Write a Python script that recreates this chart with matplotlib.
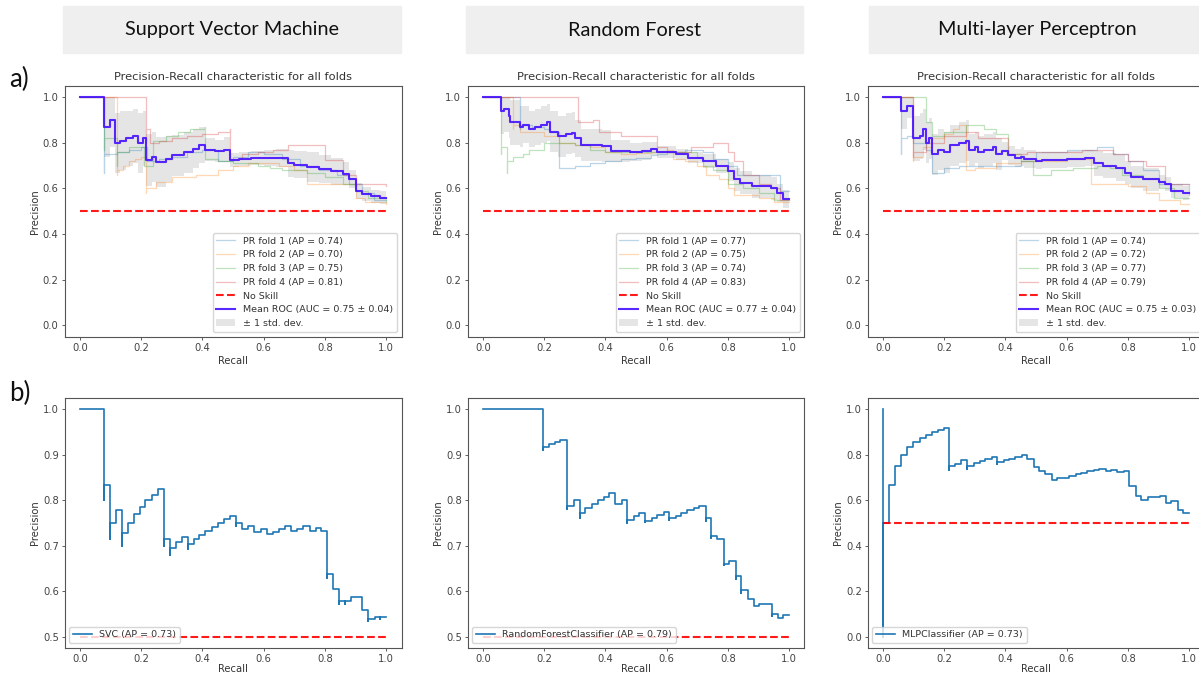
import numpy as np
import matplotlib.pyplot as plt
from matplotlib.patches import Rectangle

# ---------------- data ----------------
models = ["Support Vector Machine", "Random Forest", "Multi-layer Perceptron"]
fold_ap = [[0.74, 0.70, 0.75, 0.81], [0.77, 0.75, 0.74, 0.83], [0.74, 0.72, 0.77, 0.79]]
mean_auc = [0.75, 0.77, 0.75]
std_auc = [0.04, 0.04, 0.03]
clf_names = ["SVC", "RandomForestClassifier", "MLPClassifier"]
clf_ap = [0.73, 0.79, 0.73]
no_skill = 0.5

# top row: per-fold PR curves (recall, precision), step starts
svm_fold_r = [
    [0, .08, .08, .12, .16, .20, .22, .26, .30, .35, .40, .45, .50, .55, .60, .66, .72, .78, .84, .88, .92, .96, 1.0],
    [0, .12, .12, .14, .16, .18, .20, .215, .215, .25, .30, .38, .45, .50, .55, .60, .65, .70, .74, .86, .90, .93, 1.0],
    [0, .08, .08, .12, .12, .16, .21, .21, .24, .28, .32, .36, .41, .41, .45, .50, .58, .62, .66, .70, .74, .80, .86, .90, .94, 1.0],
    [0, .215, .215, .23, .26, .30, .35, .40, .45, .49, .49, .53, .58, .63, .68, .80, .86, .90, 1.0],
]
svm_fold_p = [
    [1.0, .67, .75, .76, .77, .78, .72, .73, .74, .76, .77, .72, .74, .76, .75, .73, .70, .68, .66, .62, .58, .55, .55],
    [1.0, .66, .68, .70, .72, .73, .74, .58, .60, .63, .65, .66, .68, .70, .71, .71, .70, .68, .62, .62, .56, .54, .53],
    [1.0, .77, .82, .70, .76, .78, .77, .70, .81, .83, .85, .86, .87, .73, .72, .71, .70, .69, .68, .68, .67, .65, .62, .59, .56, .54],
    [1.0, .80, .86, .80, .81, .82, .83, .84, .85, .86, .73, .75, .76, .77, .79, .725, .66, .62, .61],
]
rf_fold_r = [
    [0, .12, .12, .16, .20, .22, .25, .25, .30, .35, .40, .45, .50, .55, .57, .60, .66, .72, .75, .80, .83, .97, 1.0],
    [0, .10, .10, .12, .20, .25, .30, .35, .40, .45, .50, .55, .60, .62, .66, .70, .73, .77, .80, .82, .90, .95, 1.0],
    [0, .06, .06, .08, .08, .10, .13, .15, .20, .30, .35, .40, .55, .60, .70, .72, .75, .80, .85, .90, .95, 1.0],
    [0, .31, .36, .38, .45, .57, .60, .68, .75, .80, .82, .85, .90, .94, .97, 1.0],
]
rf_fold_p = [
    [1.0, .86, .88, .87, .86, .85, .84, .69, .70, .71, .72, .73, .735, .745, .75, .76, .77, .76, .73, .70, .66, .59, .59],
    [1.0, .86, .88, .85, .83, .80, .79, .78, .76, .75, .755, .76, .77, .73, .72, .70, .66, .64, .60, .57, .56, .54, .54],
    [1.0, .75, .78, .67, .72, .74, .75, .77, .80, .79, .77, .76, .76, .76, .74, .70, .68, .62, .60, .58, .55, .55],
    [1.0, .89, .90, .85, .83, .78, .76, .78, .80, .76, .72, .66, .62, .60, .55, .55],
]
mlp_fold_r = [
    [0, .06, .06, .08, .10, .14, .16, .16, .20, .25, .35, .45, .50, .60, .70, .75, .80, .85, .90, .95, 1.0],
    [0, .10, .10, .13, .16, .20, .23, .25, .27, .30, .37, .45, .60, .68, .80, .86, .90, .97, 1.0],
    [0, .14, .16, .20, .27, .33, .37, .41, .45, .49, .55, .62, .70, .74, .78, .85, .90, .95, 1.0],
    [0, .10, .10, .14, .20, .27, .31, .41, .47, .50, .65, .75, .80, .86, .92, 1.0],
]
mlp_fold_p = [
    [1.0, .75, .82, .83, .80, .77, .75, .67, .69, .70, .70, .72, .76, .77, .78, .75, .72, .68, .62, .62, .57],
    [1.0, .72, .74, .78, .82, .84, .86, .88, .68, .69, .71, .72, .73, .62, .61, .58, .55, .53, .53],
    [1.0, .89, .83, .85, .88, .86, .84, .75, .72, .66, .68, .69, .70, .69, .66, .64, .60, .56, .56],
    [1.0, .74, .76, .80, .83, .85, .82, .75, .76, .76, .77, .75, .72, .70, .62, .62],
]

# top row: mean curve and its std
svm_mean_r = [0, .08, .10, .115, .13, .15, .175, .19, .205, .215, .235, .25, .28, .30, .34, .37, .39, .41, .44,
              .47, .49, .52, .56, .60, .64, .68, .70, .74, .78, .82, .86, .88, .90, .92, .95, .98, 1.0]
svm_mean_p = [1.0, .87, .90, .80, .81, .82, .83, .80, .82, .725, .74, .715, .73, .745, .76, .775, .79, .77, .765,
              .77, .725, .73, .735, .735, .735, .71, .705, .695, .685, .675, .665, .64, .59, .575, .565, .56, .56]
svm_mean_s = [0, .13, .12, .13, .13, .12, .12, .13, .12, .115, .11, .11, .10, .09, .09, .085, .08, .05, .05,
              .055, .03, .03, .03, .035, .04, .06, .06, .065, .06, .06, .05, .04, .035, .03, .03, .03, .03]
rf_mean_r = [0, .06, .07, .085, .09, .12, .13, .15, .17, .19, .21, .22, .245, .27, .29, .30, .32, .36, .39, .42,
             .48, .52, .55, .57, .63, .67, .72, .76, .80, .82, .84, .88, .94, .96, .98, 1.0]
rf_mean_p = [1.0, .94, .95, .92, .89, .87, .88, .86, .87, .88, .89, .85, .83, .84, .845, .82, .79, .79, .785, .765,
             .76, .765, .775, .76, .75, .735, .72, .70, .675, .64, .625, .61, .60, .58, .555, .555]
rf_mean_s = [0, .10, .10, .10, .10, .09, .08, .08, .08, .08, .08, .09, .09, .09, .09, .08, .07, .07, .07, .05,
             .04, .04, .03, .025, .025, .025, .03, .03, .04, .05, .05, .05, .05, .04, .04, .04]
mlp_mean_r = [0, .06, .08, .10, .12, .13, .14, .15, .16, .18, .20, .22, .25, .27, .28, .30, .31, .33, .36, .37,
              .39, .41, .43, .45, .46, .50, .52, .60, .66, .69, .72, .76, .79, .81, .85, .90, .92, .94, .98, 1.0]
mlp_mean_p = [1.0, .94, .96, .82, .83, .86, .80, .82, .75, .77, .76, .79, .80, .81, .77, .78, .76, .77, .78, .75,
              .765, .745, .735, .74, .73, .72, .725, .73, .735, .71, .70, .69, .67, .65, .64, .63, .62, .59, .58, .58]
mlp_mean_s = [0, .08, .05, .10, .10, .09, .09, .09, .09, .09, .09, .09, .09, .09, .07, .07, .07, .07, .07, .07,
              .04, .04, .04, .04, .04, .035, .035, .035, .035, .055, .055, .055, .05, .05, .05, .03, .03, .03, .03, .03]

# bottom row: single classifier PR curves, step starts
svc_r = [0, .079, .079, .098, .098, .117, .138, .138, .157, .176, .195, .214, .234, .255, .274, .274, .294, .294,
         .313, .333, .353, .353, .372, .39, .41, .43, .45, .47, .49, .51, .51, .53, .55, .57, .59, .61, .63, .65,
         .67, .69, .71, .73, .75, .77, .787, .806, .806, .827, .846, .846, .866, .866, .886, .92, .94, .94, .962,
         .981, .981, 1.0]
svc_p = [1.0, .80, .833, .714, .75, .778, .70, .727, .75, .769, .786, .80, .8125, .824, .70, .714, .68, .696,
         .708, .72, .692, .704, .714, .724, .733, .742, .75, .758, .765, .743, .75, .737, .743, .73, .737, .725,
         .73, .737, .743, .733, .737, .743, .733, .74, .733, .63, .637, .605, .572, .578, .572, .578, .588, .558,
         .535, .538, .543, .538, .543, .543]
rfc_r = [0, .198, .198, .215, .234, .252, .274, .274, .296, .316, .316, .335, .355, .375, .394, .413, .433, .453,
         .472, .472, .492, .511, .531, .531, .551, .57, .59, .609, .609, .629, .648, .668, .688, .707, .727, .727,
         .746, .746, .766, .786, .786, .805, .825, .825, .844, .844, .864, .884, .903, .943, .943, .962, .981, 1.0]
rfc_p = [1.0, .91, .917, .923, .929, .933, .78, .788, .80, .762, .773, .782, .791, .80, .808, .815, .792, .80,
         .75, .757, .765, .772, .752, .755, .762, .768, .775, .757, .76, .766, .772, .778, .783, .788, .755, .76,
         .718, .722, .714, .657, .66, .667, .627, .633, .597, .603, .583, .567, .572, .545, .55, .541, .548, .548]
mlpc_r = [0, 0, 0, .02, .04, .06, .08, .10, .12, .14, .16, .18, .20, .215, .215, .235, .255, .274, .274, .296,
          .316, .335, .355, .374, .374, .394, .413, .433, .453, .472, .492, .511, .531, .551, .57, .59, .609, .629,
          .648, .668, .688, .707, .727, .746, .766, .786, .805, .825, .844, .864, .905, .923, .94, .962, .981, 1.0]
mlpc_p = [1.0, 0.0, .5, .667, .75, .80, .833, .857, .875, .889, .90, .909, .917, .733, .75, .76, .778, .737, .75,
          .762, .773, .783, .792, .76, .768, .776, .783, .79, .80, .78, .745, .729, .714, .69, .696, .70, .708,
          .714, .72, .727, .733, .738, .727, .733, .725, .73, .663, .62, .60, .613, .62, .588, .597, .556, .543, .543]

fold_r = [svm_fold_r, rf_fold_r, mlp_fold_r]
fold_p = [svm_fold_p, rf_fold_p, mlp_fold_p]
mean_r = [svm_mean_r, rf_mean_r, mlp_mean_r]
mean_p = [svm_mean_p, rf_mean_p, mlp_mean_p]
mean_s = [svm_mean_s, rf_mean_s, mlp_mean_s]
clf_r = [svc_r, rfc_r, mlpc_r]
clf_p = [svc_p, rfc_p, mlpc_p]

# ---------------- figure ----------------
W, H = 1199, 675
plt.rcParams.update({
    "font.size": 7.2,
    "axes.linewidth": 0.8,
    "axes.edgecolor": "#555555",
    "xtick.major.size": 2.5,
    "ytick.major.size": 2.5,
    "xtick.major.width": 0.6,
    "ytick.major.width": 0.6,
    "xtick.labelsize": 7.2,
    "ytick.labelsize": 7.2,
    "xtick.color": "#444444",
    "ytick.color": "#444444",
    "text.color": "#333333",
    "axes.labelcolor": "#333333",
})
fig = plt.figure(figsize=(W / 100, H / 100), dpi=100)


def px_axes(left, top, right, bottom):
    return fig.add_axes([left / W, 1 - bottom / H, (right - left) / W, (bottom - top) / H])


lefts = [64.5, 467.5, 867.5]

# header boxes
for i, name in enumerate(models):
    x0 = [63, 466, 869][i]
    x1 = [401, 803, 1205][i]
    fig.patches.append(Rectangle((x0 / W, 1 - 52.7 / H), (x1 - x0) / W, 46.7 / H,
                                 transform=fig.transFigure, color="#efefef", zorder=0))
    fig.text((x0 + x1) / 2 / W, 1 - 30 / H, name,
             ha="center", va="center", fontsize=14.3, family="Lato", color="#111111")

fig.text(9 / W, 1 - 79 / H, "a)", fontsize=18.5, family="Lato", color="#111111", va="center")
fig.text(9 / W, 1 - 393 / H, "b)", fontsize=18.5, family="Lato", color="#111111", va="center")

for i in range(3):
    # top row
    ax = px_axes(lefts[i], 86, lefts[i] + 337, 336.5)
    for k in range(4):
        ax.plot(fold_r[i][k], fold_p[i][k], drawstyle="steps-post", lw=0.9, alpha=0.3, color=f"C{k}",
                label=f"PR fold {k + 1} (AP = {fold_ap[i][k]:.2f})")
    ax.plot([0, 1], [no_skill, no_skill], ls="--", color="red", lw=1.5, alpha=0.9, label="No Skill")
    mr = np.array(mean_r[i])
    mp = np.array(mean_p[i])
    ms = np.array(mean_s[i])
    ax.plot(mr, mp, drawstyle="steps-post", color="#4510ff", lw=1.5, alpha=0.9,
            label=f"Mean ROC (AUC = {mean_auc[i]:.2f} ± {std_auc[i]:.2f})")
    ax.fill_between(mr, np.maximum(mp - ms, 0), np.minimum(mp + ms, 1), step="post", color="grey",
                    alpha=0.2, lw=0, label="± 1 std. dev.")
    ax.set_xlim(-0.05, 1.05)
    ax.set_ylim(-0.05, 1.05)
    ax.set_xlabel("Recall", labelpad=2)
    ax.set_ylabel("Precision", labelpad=2)
    ax.set_title("Precision-Recall characteristic for all folds", fontsize=8.2, pad=4)
    ax.tick_params(pad=2)
    ax.legend(loc="lower right", fontsize=6.8)

    # bottom row
    bx = px_axes(lefts[i], 398, lefts[i] + 337, 648)
    bx.plot(clf_r[i], clf_p[i], drawstyle="steps-post", color="#1f77b4", lw=1.2,
            label=f"{clf_names[i]} (AP = {clf_ap[i]:.2f})")
    bx.plot([0, 1], [no_skill, no_skill], ls="--", color="red", lw=1.5, alpha=0.9)
    bx.set_xlabel("Recall", labelpad=0)
    bx.set_ylabel("Precision", labelpad=2)
    bx.tick_params(pad=1.5)
    bx.legend(loc="lower left", fontsize=6.8)

fig.savefig("out.png", dpi=100)
